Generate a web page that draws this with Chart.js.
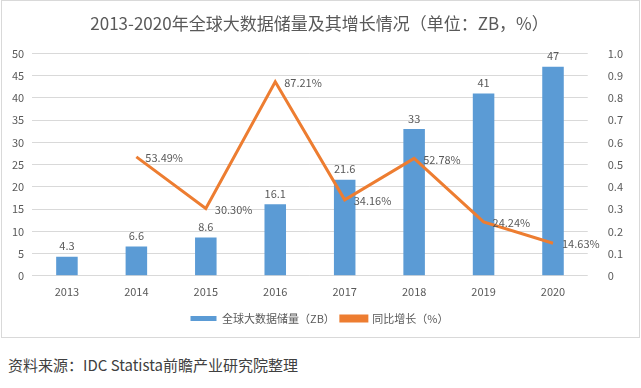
<!DOCTYPE html>
<html>
<head>
<meta charset="utf-8">
<script src="https://cdn.jsdelivr.net/npm/chart.js@4/dist/chart.umd.min.js"></script>
<style>
  body { margin: 0; background: #fff; font-family: "Noto Sans CJK SC", sans-serif; }
  #frame { position: absolute; left: 1px; top: 0; width: 637px; height: 336px; border: 1px solid #d9d9d9; }
  #source { position: absolute; left: 8px; top: 354px; font-size: 15px; color: #404040; }
</style>
</head>
<body>
<div id="frame"><canvas id="chuchu"></canvas></div>
<div id="source">资料来源：IDC Statista前瞻产业研究院整理</div>
<script>
/* DADOS */
const anos = ['2013', '2014', '2015', '2016', '2017', '2018', '2019', '2020'];
const armazenamento = [4.3, 6.6, 8.6, 16.1, 21.6, 33, 41, 47];
const crescimento = [null, 0.5349, 0.3030, 0.8721, 0.3416, 0.5278, 0.2424, 0.1463];

const fonte = "'Noto Sans CJK SC', sans-serif";

/* rotulos de dados */
const rotulos = {
  id: 'rotulos',
  afterDatasetsDraw(chart) {
    const ctx = chart.ctx;
    ctx.save();
    ctx.font = '11px ' + fonte;
    ctx.fillStyle = '#595959';
    chart.getDatasetMeta(0).data.forEach((bar, i) => {
      ctx.textAlign = 'center';
      ctx.textBaseline = 'bottom';
      ctx.fillText(String(armazenamento[i]), bar.x, bar.y - 5);
    });
    chart.getDatasetMeta(1).data.forEach((pt, i) => {
      if (crescimento[i] === null) return;
      ctx.textAlign = 'left';
      ctx.textBaseline = 'middle';
      ctx.fillText((crescimento[i] * 100).toFixed(2) + '%', pt.x + 9, pt.y + 1);
    });
    ctx.restore();
  }
};

const datagrafico = {
  labels: anos,
  datasets: [{
    type: 'bar',
    label: '全球大数据储量（ZB）',
    data: armazenamento,
    backgroundColor: '#5b9bd5',
    yAxisID: 'y',
    barPercentage: 0.62,
    categoryPercentage: 0.5,
    order: 2
  }, {
    type: 'line',
    label: '同比增长（%）',
    data: crescimento,
    borderColor: '#ed7d31',
    backgroundColor: '#ed7d31',
    borderWidth: 3,
    pointRadius: 0,
    tension: 0,
    yAxisID: 'y1',
    order: 1
  }]
};

const configgrafico = {
  data: datagrafico,
  plugins: [rotulos],
  options: {
    responsive: true,
    maintainAspectRatio: false,
    animation: false,
    layout: { padding: { left: 2, right: 4, top: 4, bottom: 3 } },
    plugins: {
      title: {
        display: true,
        text: '2013-2020年全球大数据储量及其增长情况（单位：ZB，%）',
        color: '#595959',
        font: { family: fonte, size: 17, weight: 'normal' },
        padding: { top: 8, bottom: 20 }
      },
      legend: {
        position: 'bottom',
        labels: {
          color: '#595959',
          font: { family: fonte, size: 11 },
          boxWidth: 26,
          boxHeight: 5,
          padding: 6,
          sort: (a, b) => a.datasetIndex - b.datasetIndex
        }
      },
      tooltip: { enabled: false }
    },
    scales: {
      x: {
        grid: { display: false, drawTicks: false },
        border: { display: false },
        ticks: { color: '#595959', font: { family: fonte, size: 11 }, padding: 9 }
      },
      y: {
        position: 'left',
        min: 0, max: 50,
        ticks: { stepSize: 5, color: '#595959', font: { family: fonte, size: 11 }, padding: 8 },
        grid: { color: '#d9d9d9', drawTicks: false },
        border: { display: false }
      },
      y1: {
        position: 'right',
        min: 0, max: 1,
        ticks: { stepSize: 0.1, color: '#595959', font: { family: fonte, size: 11 }, padding: 12 },
        grid: { display: false },
        border: { display: false }
      }
    }
  }
};

const chartchuchu = new Chart(document.getElementById('chuchu'), configgrafico);
</script>
</body>
</html>
